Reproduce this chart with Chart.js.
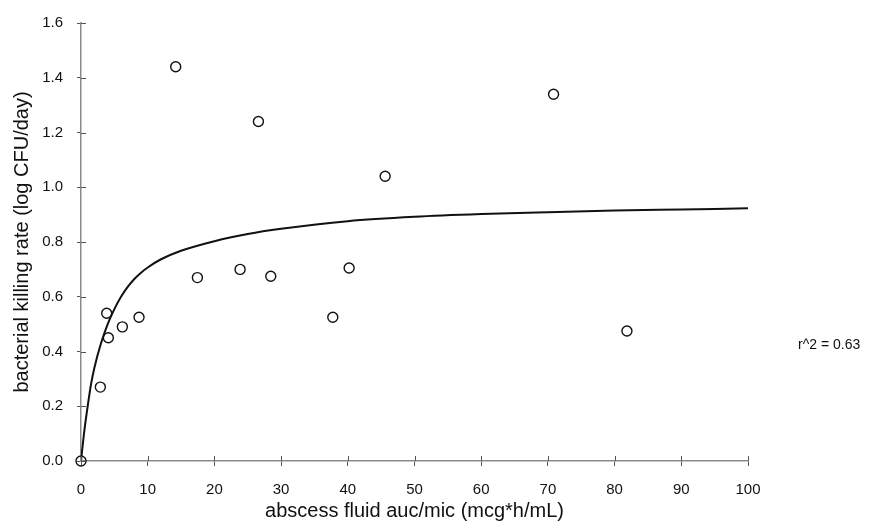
<!DOCTYPE html>
<html>
<head>
<meta charset="utf-8">
<script src="https://cdn.jsdelivr.net/npm/chart.js@4/dist/chart.umd.min.js"></script>
<style>
  html, body { margin: 0; padding: 0; background: #fff; }
  #wrap { width: 872px; height: 529px; }
</style>
</head>
<body>
<div id="wrap"><canvas id="killChart" width="872" height="529"></canvas></div>
<script>
// measured points: abscess fluid AUC/MIC vs killing rate
const aucMic = [0, 2.9, 3.85, 4.1, 6.2, 8.7, 14.2, 17.45, 23.85, 26.6, 28.45, 37.75, 40.2, 45.6, 70.85, 81.85];
const killRate = [0, 0.27, 0.54, 0.45, 0.49, 0.525, 1.44, 0.67, 0.70, 1.24, 0.675, 0.525, 0.705, 1.04, 1.34, 0.475];

// fitted curve, sampled along x
const fitX = [0, 0.5, 1, 1.5, 2, 3, 4, 5, 6, 7, 8, 9, 10, 12, 15, 20, 25, 30, 40, 50, 60, 70, 80, 90, 100];
const fitY = [0, 0.11, 0.2, 0.28, 0.34, 0.43, 0.50, 0.555, 0.60, 0.636, 0.665, 0.688, 0.707, 0.737, 0.768, 0.803, 0.829, 0.848, 0.876, 0.892, 0.902, 0.909, 0.915, 0.919, 0.923];

const xTicks = [0, 10, 20, 30, 40, 50, 60, 70, 80, 90, 100];
const yTicks = [0, 0.2, 0.4, 0.6, 0.8, 1.0, 1.2, 1.4, 1.6];

const rSquared = "r^2 = 0.63";

const FONT = "'Liberation Sans', Arial, sans-serif";
const AXIS_GREY = "#8a8a8a";

// short tick marks on the inner side of both axes (Chart.js only draws the outer part)
const innerTicks = {
  id: "innerTicks",
  afterDatasetsDraw(chart) {
    const { ctx, chartArea, scales } = chart;
    ctx.save();
    ctx.strokeStyle = "#555";
    ctx.lineWidth = 1;
    ctx.beginPath();
    xTicks.forEach(v => {
      const px = Math.round(scales.x.getPixelForValue(v)) + 0.5;
      ctx.moveTo(px, chartArea.bottom);
      ctx.lineTo(px, chartArea.bottom - 5);
    });
    yTicks.forEach(v => {
      const py = Math.round(scales.y.getPixelForValue(v)) + 0.5;
      ctx.moveTo(chartArea.left, py);
      ctx.lineTo(chartArea.left + 5, py);
    });
    ctx.stroke();
    ctx.restore();
  }
};

// goodness-of-fit note to the right of the plot
const fitNote = {
  id: "fitNote",
  afterDraw(chart) {
    const { ctx, chartArea } = chart;
    ctx.save();
    ctx.font = "14px " + FONT;
    ctx.fillStyle = "#111";
    ctx.textAlign = "left";
    ctx.textBaseline = "middle";
    ctx.fillText(rSquared, chartArea.right + 50, 345);
    ctx.restore();
  }
};

new Chart(document.getElementById("killChart"), {
  type: "scatter",
  data: {
    datasets: [
      {
        label: "observed",
        data: aucMic.map((x, i) => ({ x, y: killRate[i] })),
        pointStyle: "circle",
        pointRadius: 5,
        pointBorderWidth: 1.4,
        borderColor: "#111",
        backgroundColor: "rgba(0,0,0,0)",
        clip: false,
        order: 2
      },
      {
        label: "fit",
        data: fitX.map((x, i) => ({ x, y: fitY[i] })),
        showLine: true,
        cubicInterpolationMode: "monotone",
        borderColor: "#111",
        borderWidth: 2,
        pointRadius: 0,
        fill: false,
        order: 1
      }
    ]
  },
  options: {
    responsive: false,
    animation: false,
    devicePixelRatio: 1,
    layout: { padding: { top: 19, right: 124, left: 0, bottom: 0 } },
    plugins: {
      legend: { display: false },
      tooltip: { enabled: false }
    },
    scales: {
      x: {
        type: "linear",
        min: 0,
        max: 100,
        afterBuildTicks: s => { s.ticks = xTicks.map(v => ({ value: v })); },
        afterFit: s => { s.height = 68; },
        grid: { drawOnChartArea: false, drawTicks: true, tickLength: 5, color: "#555" },
        border: { color: AXIS_GREY, width: 1.5 },
        ticks: {
          color: "#111",
          font: { family: FONT, size: 15 },
          padding: 15,
          maxRotation: 0
        },
        title: {
          display: true,
          text: "abscess fluid auc/mic (mcg*h/mL)",
          color: "#111",
          font: { family: FONT, size: 20 },
          padding: { top: 0, bottom: 6 }
        }
      },
      y: {
        type: "linear",
        min: 0,
        max: 1.6,
        afterBuildTicks: s => { s.ticks = yTicks.map(v => ({ value: v })); },
        afterFit: s => { s.width = 81; },
        grid: { drawOnChartArea: false, drawTicks: true, tickLength: 4, color: "#555" },
        border: { color: AXIS_GREY, width: 1.5 },
        ticks: {
          color: "#111",
          font: { family: FONT, size: 15 },
          padding: 14,
          callback: v => v.toFixed(1)
        },
        title: {
          display: true,
          text: "bacterial killing rate (log CFU/day)",
          color: "#111",
          font: { family: FONT, size: 20 },
          padding: { top: 10, bottom: 0 }
        }
      }
    }
  },
  plugins: [innerTicks, fitNote]
});
</script>
</body>
</html>
